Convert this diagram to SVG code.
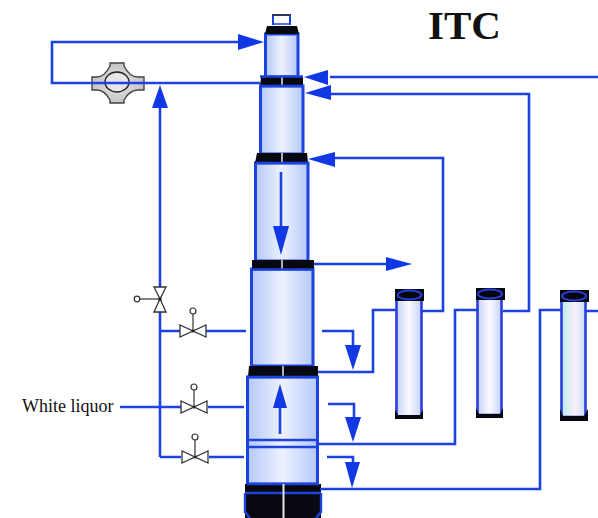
<svg xmlns="http://www.w3.org/2000/svg" width="598" height="518" viewBox="0 0 598 518">
<defs>
<linearGradient id="b" x1="0" x2="1" y1="0" y2="0"><stop offset="0" stop-color="#b4c8f8"/><stop offset=".5" stop-color="#eef2fe"/><stop offset="1" stop-color="#b4c8f8"/></linearGradient>
<linearGradient id="t" x1="0" x2="1" y1="0" y2="0"><stop offset="0" stop-color="#c8d2f8"/><stop offset=".5" stop-color="#fafaff"/><stop offset="1" stop-color="#c8d2f8"/></linearGradient>
<linearGradient id="t3" x1="0" x2="1" y1="0" y2="0"><stop offset="0" stop-color="#b8ecec"/><stop offset=".55" stop-color="#fbf0fb"/><stop offset="1" stop-color="#c8e0f4"/></linearGradient>
<radialGradient id="g"><stop offset="0" stop-color="#e8e8e8"/><stop offset="1" stop-color="#c4c4c4"/></radialGradient>
<g id="valve"><path d="M-13-6V6L13-6V6Z" fill="#fff" stroke="#333" stroke-width="1.3"/><path d="M0 0V-17" stroke="#333" stroke-width="1.2"/><circle cy="-20" r="3" fill="#fff" stroke="#333" stroke-width="1.2"/><circle r="1.5" fill="#222"/></g>
</defs>
<style>
.l{fill:none;stroke:#1c43e0;stroke-width:2.6}
.a{fill:#1238e6}
.body{stroke:#1c43e0;stroke-width:3}
.k{fill:#080810}
.w{stroke:#e8e8e8;stroke-width:1.5}
.e{fill:#06060c;stroke:#2a3ee0;stroke-width:2}
.f{stroke:#1c43e0;stroke-width:2.4}
text{fill:#111}
</style>
<rect width="598" height="518" fill="#fff"/>
<g id="pump">
<path d="M92 77H97C102 77 106 74 110 66V63H124V66C128 74 132 77 138 77H144V90H138C132 90 128 93 124 100V103H110V100C106 93 102 90 97 90H92Z" fill="url(#g)" stroke="#444" stroke-width="1.4"/>
<ellipse cx="117" cy="82" rx="12" ry="10" fill="#e6e6e6" stroke="#222" stroke-width="1.4"/>
</g>
<g id="column">
<path d="M273 25V15H290V25" fill="#fff" stroke="#1c43e0" stroke-width="2"/><path d="M272 15H291" stroke="#333" stroke-width="1.5"/><path d="M274 24H289" stroke="#1c43e0" stroke-width="1.5"/>
<rect class="body" x="265.500" y="34" width="32.500" height="43" fill="url(#b)"/>
<rect class="body" x="260.500" y="86" width="42.500" height="68" fill="url(#b)"/>
<rect class="body" x="255.500" y="163" width="52.500" height="98" fill="url(#b)"/>
<rect class="body" x="251.500" y="269" width="61.500" height="97" fill="url(#b)"/>
<rect class="body" x="247.500" y="377" width="70" height="107" fill="url(#b)"/>
<path class="f" d="M248 440H318M248 447H318"/>
<path class="k" d="M267 26H297L299 34H265Z"/>
<path class="k" d="M261 77H303V86H260Z"/><path class="w" d="M282 77V86"/><path class="f" d="M260 76.500H303M260 86H303"/>
<path class="k" d="M257 153H307L308 163H255Z"/><path class="w" d="M282 153V163"/><path class="f" d="M256 163H308"/>
<rect class="k" x="252" y="260" width="62" height="9"/><path class="w" d="M282 260V269"/><path class="f" d="M251 269.500H314"/>
<path class="k" d="M249 366H318V377H248Z"/><path class="w" d="M283 366V377"/><path class="f" d="M247 377H318"/>
<rect class="k" x="245" y="484" width="76" height="34"/>
<path class="f" fill="none" d="M247 484H319M245 493H321M245 493V512L250 518M321 493V512L316 518"/>
<path d="M283.500 484V518" stroke="#e8e8e8" stroke-width="2"/>
</g>
<g id="connectors">
<path class="l" d="M240 42H52V83H260"/>
<path class="l" d="M160 108V457"/>
<path class="l" d="M160 331H181M206 331H246"/>
<path class="l" d="M120 407H181M208 407H244"/>
<path class="l" d="M160 457H181M209 457H244"/>
<path class="l" d="M330 77H598M331 94H529V311H503"/>
<path class="l" d="M333 158H443V311H422"/>
<path class="l" d="M314 264H390"/>
<path class="l" d="M318 372H373V310H396M318 444H455V310H477M320 489H540V310H561M585 311H598"/>
<path class="l" d="M322 331H353V347M328 404H354V418M327 457H353V464"/>
<path class="l" d="M281 172V228M280 434V406"/>
<path class="a" d="M238 34L264 42L238 50Z"/>
<path class="a" d="M160 85L168 108H152Z"/>
<path class="a" d="M304 77L328 70V85Z"/>
<path class="a" d="M305 93L331 85V100Z"/>
<path class="a" d="M308 159L335 152V167Z"/>
<path class="a" d="M412 264L386 257V271Z"/>
<path class="a" d="M281 255L273 226H289Z"/>
<path class="a" d="M280 384L273 408H287Z"/>
<path class="a" d="M353 370L345 345H361Z"/>
<path class="a" d="M353 442L345 417H361Z"/>
<path class="a" d="M352 488L345 462H360Z"/>
</g>
<g id="tube1">
<rect x="396.500" y="298" width="25" height="119" fill="url(#t)" stroke="#2a3ee0" stroke-width="2.600"/>
<rect class="k" x="395" y="289" width="29" height="12"/><ellipse class="e" cx="409.500" cy="295" rx="12" ry="4.500"/>
<path class="k" d="M395 410L398 415H420L423 410V419H395Z"/>
</g>
<g id="tube2">
<rect x="477.500" y="297" width="24" height="118" fill="url(#t)" stroke="#2a3ee0" stroke-width="2.600"/>
<rect class="k" x="476" y="288" width="29" height="12"/><ellipse class="e" cx="490" cy="294" rx="12" ry="4.500"/>
<path class="k" d="M476 408L479 414H500L503 408V418H476Z"/>
</g>
<g id="tube3">
<rect x="561.500" y="299" width="24" height="118" fill="url(#t3)" stroke="#2a3ee0" stroke-width="2.600"/>
<rect class="k" x="560" y="290" width="29" height="12"/><ellipse class="e" cx="574" cy="296" rx="12" ry="4.500"/>
<path class="k" d="M560 409L563 416H584L588 409V421H560Z"/>
</g>
<g id="valve-top">
<path d="M160 299L154 287H166ZM160 299L154 312H166Z" fill="#fff" stroke="#333" stroke-width="1.300"/>
<path d="M160 299H140" stroke="#333" stroke-width="1.200"/><circle cx="137" cy="299" r="2.800" fill="#fff" stroke="#333" stroke-width="1.200"/><circle cx="160" cy="299" r="1.500" fill="#222"/>
</g>
<use id="valve-1" href="#valve" x="193" y="331"/>
<use id="valve-2" href="#valve" x="194" y="407"/>
<use id="valve-3" href="#valve" x="195" y="457"/>
<text id="label-itc" x="428" y="39" font-family="Liberation Serif, serif" font-weight="bold" font-size="41">ITC</text>
<text id="label-white-liquor" x="22" y="412" font-family="Liberation Serif, serif" font-size="18">White liquor</text>
</svg>
